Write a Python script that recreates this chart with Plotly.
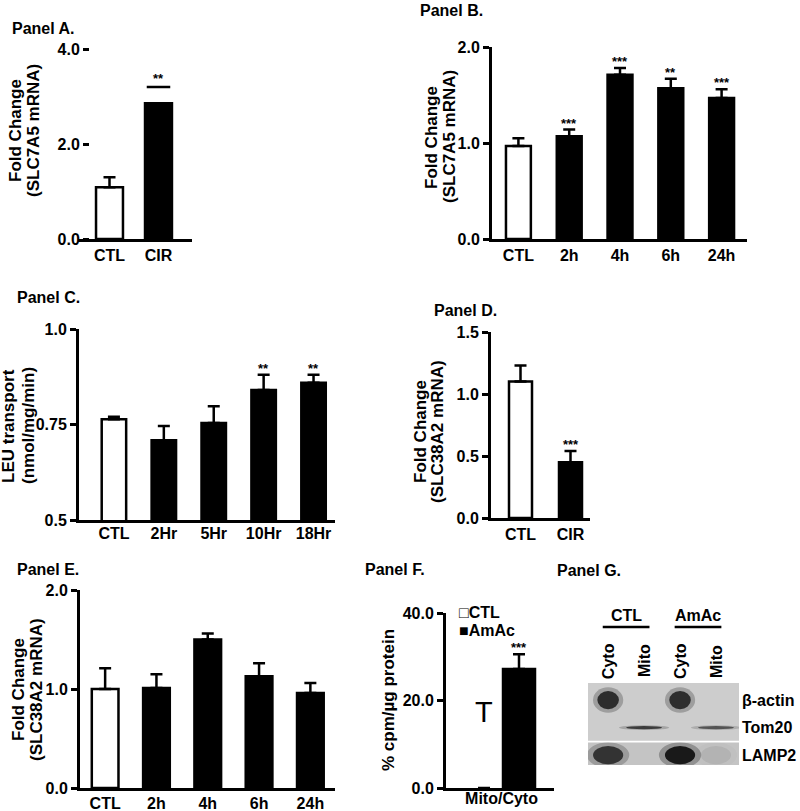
import plotly.graph_objects as go

# ---------------- data ----------------
a_labels = ["CTL", "CIR"]
a_values = [1.09, 2.86]
a_errors = [0.21, 0.0]
a_stars = ["", "**"]
a_sig_level = 3.2

b_labels = ["CTL", "2h", "4h", "6h", "24h"]
b_values = [0.97, 1.07, 1.71, 1.57, 1.47]
b_errors = [0.08, 0.07, 0.07, 0.10, 0.09]
b_stars = ["", "***", "***", "**", "***"]

c_labels = ["CTL", "2Hr", "5Hr", "10Hr", "18Hr"]
c_values = [0.764, 0.709, 0.754, 0.840, 0.859]
c_errors = [0.006, 0.037, 0.044, 0.040, 0.021]
c_stars = ["", "", "", "**", "**"]

d_labels = ["CTL", "CIR"]
d_values = [1.10, 0.45]
d_errors = [0.13, 0.09]
d_stars = ["", "***"]

e_labels = ["CTL", "2h", "4h", "6h", "24h"]
e_values = [1.00, 1.01, 1.50, 1.13, 0.96]
e_errors = [0.21, 0.14, 0.06, 0.13, 0.10]

f_category = ["Mito/Cyto"]
f_groups = ["CTL", "AmAc"]
f_values = [0.0, 27.2]
f_errors = [0.0, 3.4]
f_stars = ["", "***"]
f_ctl_mark = 17.9   # the stray "T" drawn where the CTL bar would be

blot_groups = ["CTL", "AmAc"]
blot_lanes = ["Cyto", "Mito", "Cyto", "Mito"]
blot_rows = ["β-actin", "Tom20", "LAMP2"]
band_intensity = [
    [0.85, 0.0, 0.85, 0.0],
    [0.0, 0.75, 0.0, 0.6],
    [0.8, 0.0, 1.0, 0.08],
]

# ---------------- styling ----------------
W, H = 800, 811
FONT = "Liberation Sans, Arial, sans-serif"
BOLD = dict(family=FONT, size=16, color="black", weight="bold")
TITLE = dict(BOLD, size=17)
STAR = dict(family=FONT, size=13, color="black", weight="bold")


def fx(p):
    return p / W


def fy(p):
    return 1 - p / H


fig = go.Figure()


def add_bars(n, x, y, err, fills, width, offset=None, cap=6, thick=2.5, line_w=2.5):
    fig.add_trace(go.Bar(
        x=x, y=y, width=width, offset=offset,
        marker=dict(color=fills, line=dict(color="black", width=line_w)),
        error_y=dict(type="data", symmetric=False, array=err,
                     arrayminus=[0] * len(err), color="black",
                     thickness=thick, width=cap),
        xaxis="x" if n == 1 else f"x{n}",
        yaxis="y" if n == 1 else f"y{n}",
        showlegend=False, hoverinfo="skip"))


def set_axes(n, box, xrange, yrange, tickvals, ticktext, standoff=0,
             yline=True, ypos=None):
    x0, y0, x1, y1 = box
    sfx = "" if n == 1 else str(n)
    xa = dict(domain=[fx(x0), fx(x1)], anchor=f"y{sfx}", type="category",
              range=xrange, showline=True, linewidth=3, linecolor="black",
              ticks="", tickfont=BOLD, showgrid=False, zeroline=False,
              ticklabelstandoff=standoff)
    ya = dict(domain=[fy(y1), fy(y0)], anchor=f"x{sfx}", range=yrange,
              tickvals=tickvals, ticktext=ticktext, showline=yline,
              linewidth=3, linecolor="black", ticks="outside", ticklen=6,
              tickwidth=2.5, tickcolor="black", tickfont=BOLD,
              showgrid=False, zeroline=False)
    if ypos is not None:
        ya.update(anchor="free", position=fx(ypos))
    fig.update_layout(**{f"xaxis{sfx}": xa, f"yaxis{sfx}": ya})


def fills_for(labels):
    return ["white"] + ["black"] * (len(labels) - 1)


def add_stars(n, labels, values, errors, stars):
    for lab, v, e, s in zip(labels, values, errors, stars):
        if s:
            fig.add_annotation(x=lab, y=v + e, xref=f"x{n}", yref=f"y{n}",
                               text=s, showarrow=False, yanchor="bottom",
                               yshift=-3, font=STAR)


def text(x, y, s, font=BOLD, anchor="left", angle=0):
    fig.add_annotation(x=fx(x), y=fy(y), xref="paper", yref="paper", text=s,
                       showarrow=False, xanchor=anchor, yanchor="middle",
                       textangle=angle, font=font)


# Panel A
add_bars(1, a_labels, a_values, a_errors, fills_for(a_labels), 0.55)
set_axes(1, (78, 49, 192, 239), [-0.643, 1.684], [0, 4], [0, 2, 4],
         ["0.0", "2.0", "4.0"], yline=False, ypos=89)
fig.add_shape(type="line", xref="x", yref="y", x0=1 - 0.24, x1=1 + 0.24,
              y0=a_sig_level, y1=a_sig_level, line=dict(color="black", width=2.5))
fig.add_annotation(x=1, y=a_sig_level, xref="x", yref="y", text=a_stars[1],
                   showarrow=False, yanchor="bottom", yshift=-1, font=STAR)

# Panel B
add_bars(2, b_labels, b_values, b_errors, fills_for(b_labels), 0.49)
set_axes(2, (492, 47, 747, 239), [-0.52, 4.5], [0, 2], [0, 1, 2],
         ["0.0", "1.0", "2.0"])
add_stars(2, b_labels, b_values, b_errors, b_stars)

# Panel C
add_bars(3, c_labels, c_values, c_errors, fills_for(c_labels), 0.49)
set_axes(3, (79, 329, 335, 520), [-0.70, 4.43], [0.5, 1.0], [0.5, 0.75, 1.0],
         ["0.5", "0.75", "1.0"], standoff=-3)
add_stars(3, c_labels, c_values, c_errors, c_stars)

# Panel D
add_bars(4, d_labels, d_values, d_errors, fills_for(d_labels), 0.46)
set_axes(4, (491, 332, 590, 518), [-0.59, 1.39], [0, 1.5], [0, 0.5, 1.0, 1.5],
         ["0.0", "0.5", "1.0", "1.5"])
add_stars(4, d_labels, d_values, d_errors, d_stars)

# Panel E
add_bars(5, e_labels, e_values, e_errors, fills_for(e_labels), 0.52)
set_axes(5, (80, 590, 335, 788), [-0.49, 4.48], [0, 2], [0, 1, 2],
         ["0.0", "1.0", "2.0"], standoff=-1)

# Panel F
f_shift = [-0.25, 0.25]
f_width = 0.457
add_bars(6, f_category, [f_values[0]], [f_errors[0]], "white", f_width,
         offset=f_shift[0] - f_width / 2, line_w=0)
add_bars(6, f_category, [f_values[1]], [f_errors[1]], "black", f_width,
         offset=f_shift[1] - f_width / 2)
set_axes(6, (446, 613, 554, 788), [-0.793, 0.75], [0, 40], [0, 20, 40],
         ["0.0", "20.0", "40.0"], standoff=-6)
fig.add_annotation(x=f_shift[1], y=f_values[1] + f_errors[1], xref="x6",
                   yref="y6", text=f_stars[1], showarrow=False,
                   yanchor="bottom", yshift=-3, font=STAR)
fig.add_annotation(x=f_shift[0], y=f_ctl_mark, xref="x6", yref="y6",
                   text="T", showarrow=False, yanchor="middle", yshift=-2,
                   font=dict(family=FONT, size=29, color="#000000"))
text(457, 612, "□" + f_groups[0])
text(457, 630, "■" + f_groups[1])

# Panel G (western blot)
G_X = [-0.56, 3.64]
G_Y = [2.36, -0.62]
split = 1.51
fig.update_layout(
    xaxis7=dict(domain=[fx(588), fx(739)], range=G_X, visible=False,
                anchor="y7"),
    yaxis7=dict(domain=[fy(765), fy(683)], range=G_Y, visible=False,
                anchor="x7"),
)
fig.add_trace(go.Scatter(x=[None], y=[None], xaxis="x7", yaxis="y7",
                         showlegend=False, hoverinfo="skip"))
fig.add_shape(type="rect", xref="x7", yref="y7", x0=G_X[0], x1=G_X[1],
              y0=G_Y[1], y1=split - 0.03, fillcolor="#cdcdcd", line_width=0,
              layer="below")
fig.add_shape(type="rect", xref="x7", yref="y7", x0=G_X[0], x1=G_X[1],
              y0=split + 0.03, y1=G_Y[0], fillcolor="#c4c4c4", line_width=0,
              layer="below")
band_size = [(0.30, 0.33), (0.50, 0.06), (0.42, 0.33)]
for r, row in enumerate(blot_rows):
    hw, hh = band_size[r]
    for l, val in enumerate(band_intensity[r]):
        if val <= 0:
            continue
        for scale, alpha in ((1.4, 0.3), (1.0, 1.0)):
            fig.add_shape(type="circle", xref="x7", yref="y7",
                          x0=l - hw * scale, x1=l + hw * scale,
                          y0=r - hh * scale, y1=r + hh * scale,
                          fillcolor=f"rgba(25,25,25,{val * alpha:.2f})",
                          line_width=0)
    fig.add_annotation(x=fx(740), y=r, xref="paper", yref="y7", text=row,
                       showarrow=False, xanchor="left", yanchor="middle",
                       font=BOLD)
for l, lane in enumerate(blot_lanes):
    fig.add_annotation(x=l, y=fy(661), xref="x7", yref="paper", text=lane,
                       showarrow=False, xanchor="center", yanchor="middle",
                       textangle=-90, font=BOLD)
for g, grp in enumerate(blot_groups):
    first, last = 2 * g, 2 * g + 1
    fig.add_annotation(x=(first + last) / 2, y=fy(615), xref="x7",
                       yref="paper", text=grp, showarrow=False,
                       xanchor="center", yanchor="middle", font=BOLD)
    fig.add_shape(type="line", xref="x7", yref="paper", x0=first - 0.15,
                  x1=last + 0.15, y0=fy(627), y1=fy(627),
                  line=dict(color="black", width=2.5))

# Panel titles and axis titles
text(10, 29, "Panel A.")
text(418, 10, "Panel B.")
text(15, 297, "Panel C.")
text(432, 310, "Panel D.")
text(15, 569, "Panel E.")
text(363, 569, "Panel F.")
text(555, 570, "Panel G.")

text(15, 131, "Fold Change", font=TITLE, anchor="center", angle=-90)
text(33, 131, "(SLC7A5 mRNA)", font=TITLE, anchor="center", angle=-90)
text(431, 137, "Fold Change", font=TITLE, anchor="center", angle=-90)
text(449, 137, "(SLC7A5 mRNA)", font=TITLE, anchor="center", angle=-90)
text(8, 426, "LEU transport", font=TITLE, anchor="center", angle=-90)
text(28, 426, "(nmol/mg/min)", font=TITLE, anchor="center", angle=-90)
text(420, 432, "Fold Change", font=TITLE, anchor="center", angle=-90)
text(437, 432, "(SLC38A2 mRNA)", font=TITLE, anchor="center", angle=-90)
text(18, 690, "Fold Change", font=TITLE, anchor="center", angle=-90)
text(36, 690, "(SLC38A2 mRNA)", font=TITLE, anchor="center", angle=-90)
text(388, 700, "% cpm/µg protein", font=TITLE, anchor="center", angle=-90)

fig.update_layout(
    width=W, height=H,
    margin=dict(l=0, r=0, t=0, b=0, autoexpand=False),
    paper_bgcolor="white", plot_bgcolor="rgba(0,0,0,0)",
    barmode="overlay", showlegend=False,
)

# the page's default 8px body margin would push the figure off the window
fig.write_html("out.html", config={"displayModeBar": False},
               post_script="document.body.style.margin = '0';")
